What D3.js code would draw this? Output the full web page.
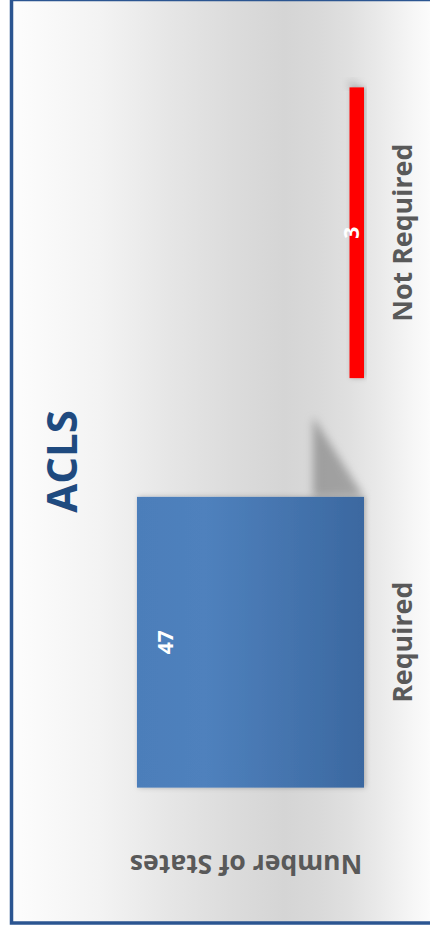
<!DOCTYPE html>
<html>
<head>
<meta charset="utf-8">
<script src="https://cdn.jsdelivr.net/npm/d3@7"></script>
<style>
  html, body { margin: 0; padding: 0; background: #ffffff; }
  svg { display: block; font-family: "Open Sans", "DejaVu Sans", sans-serif; }
</style>
</head>
<body>
<script>
// Chart data
var categories = ["Required", "Not Required"];
var values = [47, 3];
var barColors = ["url(#blueGrad)", "#ff0000"];
var chartTitle = "ACLS";
var yAxisTitle = "Number of States";
var yMax = 50;

// The whole chart is drawn as a normal column chart, then turned -90 degrees
var pageW = 430, pageH = 928;
var baseline = 364, plotTop = 122.5;

var svg = d3.select("body").append("svg")
    .attr("width", pageW)
    .attr("height", pageH);

var defs = svg.append("defs");

// background gradient (top to bottom in the unrotated chart)
var bg = defs.append("linearGradient").attr("id", "bgGrad")
    .attr("x1", 0).attr("y1", 0).attr("x2", 0).attr("y2", 1);
[[0, "#fdfdfd"], [0.21, "#f3f3f3"], [0.375, "#e6e6e6"], [0.52, "#dcdcdc"],
 [0.65, "#d5d5d5"], [0.73, "#d9d9d9"], [0.805, "#e0e0e0"], [0.876, "#eaeaea"],
 [0.947, "#f5f5f5"], [1, "#fcfcfc"]].forEach(function(s) {
    bg.append("stop").attr("offset", s[0]).attr("stop-color", s[1]);
});

// blue bar gradient
var bg2 = defs.append("linearGradient").attr("id", "blueGrad")
    .attr("x1", 0).attr("y1", 0).attr("x2", 0).attr("y2", 1);
bg2.append("stop").attr("offset", 0).attr("stop-color", "#4c7eba");
bg2.append("stop").attr("offset", 0.3).attr("stop-color", "#4f81bd");
bg2.append("stop").attr("offset", 1).attr("stop-color", "#3b68a0");

defs.append("filter").attr("id", "barShadow")
    .attr("x", "-20%").attr("y", "-20%").attr("width", "140%").attr("height", "140%")
  .append("feDropShadow")
    .attr("dx", 0).attr("dy", 1.5).attr("stdDeviation", 2.5)
    .attr("flood-color", "#000").attr("flood-opacity", 0.25);

defs.append("filter").attr("id", "blur")
    .attr("x", "-50%").attr("y", "-50%").attr("width", "200%").attr("height", "200%")
  .append("feGaussianBlur").attr("stdDeviation", 4);

var g = svg.append("g")
    .attr("transform", "translate(0," + pageH + ") rotate(-90)");

// chart area background + frame
g.append("rect")
    .attr("x", 5).attr("y", 11.5)
    .attr("width", 923.5).attr("height", 420.5)
    .attr("fill", "url(#bgGrad)")
    .attr("stroke", "#2b5591")
    .attr("stroke-width", 3.5);

// scales
var x = d3.scaleBand()
    .domain(categories)
    .range([81, 900])
    .paddingInner(0.29)
    .paddingOuter(0.145);

var y = d3.scaleLinear()
    .domain([0, yMax])
    .range([baseline, plotTop]);

var data = categories.map(function(c, i) { return {cat: c, val: values[i], color: barColors[i]}; });

// perspective shadow behind bars
g.append("g").selectAll("polygon")
    .data(data)
    .enter()
    .append("polygon")
      .attr("points", function(d) {
          var x1 = x(d.cat) + x.bandwidth();
          var h = Math.min(51, y(0) - y(d.val));
          var len = 80 * Math.pow(h / 51, 2);
          return [[x1, y(0) - h], [x1 + len, y(0) - h], [x1, y(0)]].join(" ");
      })
      .attr("fill", "#6f6f6f")
      .attr("opacity", 0.55)
      .attr("filter", "url(#blur)");

// bars
g.append("g").selectAll("rect")
    .data(data)
    .enter()
    .append("rect")
      .attr("x", function(d) { return x(d.cat); })
      .attr("y", function(d) { return y(d.val); })
      .attr("width", x.bandwidth())
      .attr("height", function(d) { return y(0) - y(d.val); })
      .attr("fill", function(d) { return d.color; })
      .attr("filter", "url(#barShadow)");

// data labels (inside end)
g.append("g").selectAll("text")
    .data(data)
    .enter()
    .append("text")
      .attr("x", function(d) { return x(d.cat) + x.bandwidth() / 2; })
      .attr("y", function(d) { return Math.min(y(d.val) + 36, y(0) - 5); })
      .attr("text-anchor", "middle")
      .attr("font-size", "21px")
      .attr("font-weight", "bold")
      .attr("fill", "#ffffff")
      .text(function(d) { return d.val; });

// category axis
var xAxis = g.append("g")
    .attr("transform", "translate(0," + baseline + ")")
    .call(d3.axisBottom(x).tickSize(0).tickPadding(29));
xAxis.select(".domain").remove();
xAxis.selectAll("text")
    .attr("font-family", "'Open Sans', sans-serif")
    .attr("font-size", "26.8px")
    .attr("font-weight", "bold")
    .attr("fill", "#595959");

// title
g.append("text")
    .attr("x", 466.5)
    .attr("y", 77)
    .attr("text-anchor", "middle")
    .attr("font-size", "42px")
    .attr("font-weight", "bold")
    .attr("fill", "#1f4a7f")
    .text(chartTitle);

// y axis title
g.append("text")
    .attr("transform", "translate(73,246) rotate(-90)")
    .attr("text-anchor", "middle")
    .attr("font-size", "26.5px")
    .attr("font-weight", "bold")
    .attr("fill", "#595959")
    .text(yAxisTitle);
</script>
</body>
</html>
